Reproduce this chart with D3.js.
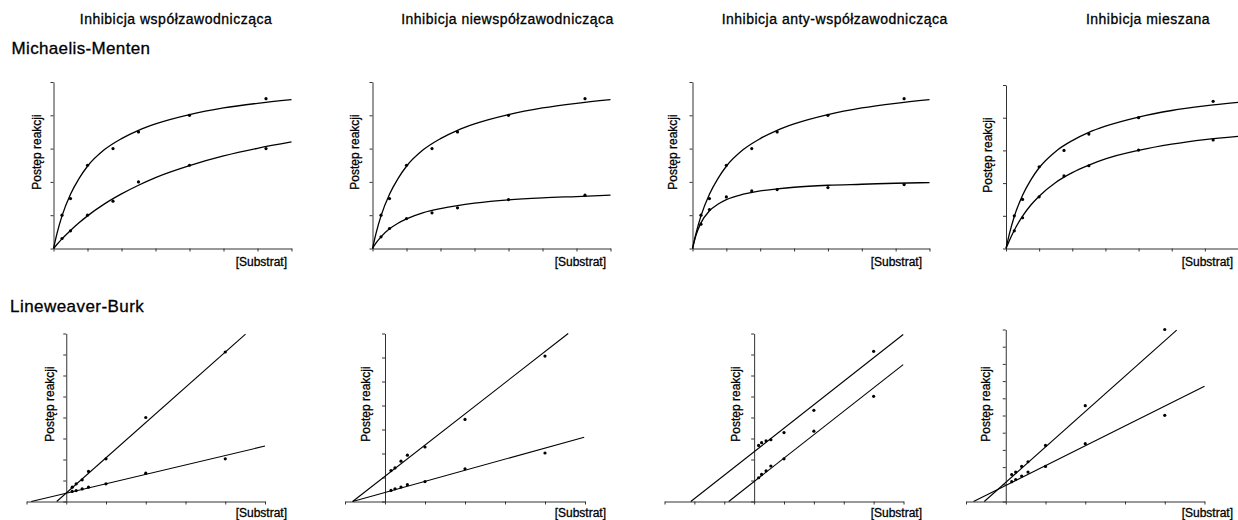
<!DOCTYPE html>
<html>
<head>
<meta charset="utf-8">
<script src="https://cdn.jsdelivr.net/npm/d3@7"></script>
<style>
  html, body { margin: 0; padding: 0; background: #fff; }
  svg { display: block; font-family: "Liberation Sans", Arial, Helvetica, sans-serif; }
  svg text { stroke: #000; stroke-width: 0.3px; }
</style>
</head>
<body>
<svg id="chart" width="1238" height="520"></svg>
<script>
// ---- Labels ----
const columnTitles = [
  "Inhibicja współzawodnicząca",
  "Inhibicja niewspółzawodnicząca",
  "Inhibicja anty-współzawodnicząca",
  "Inhibicja mieszana"
];
const rowTitles = ["Michaelis-Menten", "Lineweaver-Burk"];
const yAxisLabel = "Postęp reakcji";
const xAxisLabel = "[Substrat]";

// ---- Michaelis-Menten: measured rates ----
const substrate = [0.25, 0.5, 1, 1.75, 2.5, 4, 6.25];
const rateUninhibited = [1.0, 1.5, 2.5, 3.0, 3.5, 4.0, 4.5];
const rateCompetitive = [0.3, 0.53, 1.0, 1.42, 2.0, 2.5, 3.0];
const rateNoncompetitive = [0.35, 0.6, 0.9, 1.07, 1.22, 1.47, 1.6];
const rateUncompetitive = [0.73, 1.17, 1.55, 1.73, 1.77, 1.83, 1.92];
const rateMixed = [0.54, 0.94, 1.58, 2.22, 2.53, 3.01, 3.32];

// ---- Michaelis-Menten: fitted curves ----
const curveSubstrate = [0, 0.1, 0.25, 0.5, 0.75, 1, 1.5, 2, 2.5, 3, 4, 5, 6, 7];
const fitUninhibited = [0, 0.44, 0.98, 1.63, 2.1, 2.47, 2.97, 3.3, 3.55, 3.74, 4.02, 4.22, 4.36, 4.47];
const fitCompetitive = [0, 0.12, 0.29, 0.54, 0.77, 0.98, 1.34, 1.64, 1.9, 2.13, 2.49, 2.78, 3.01, 3.2];
const fitNoncompetitive = [0, 0.16, 0.35, 0.59, 0.76, 0.89, 1.08, 1.2, 1.29, 1.36, 1.46, 1.52, 1.56, 1.6];
const fitUncompetitive = [0, 0.39, 0.77, 1.13, 1.33, 1.47, 1.63, 1.73, 1.79, 1.84, 1.9, 1.93, 1.96, 1.98];
const fitMixed = [0, 0.24, 0.56, 0.99, 1.33, 1.6, 2.02, 2.32, 2.55, 2.74, 3.0, 3.19, 3.33, 3.43];

// ---- Lineweaver-Burk: reciprocal data ----
const invSubstrate = [0.15, 0.25, 0.4, 0.56, 1, 2, 4];
const lbCompetitiveInhibited = [0.68, 0.84, 1.03, 1.43, 2.03, 4.0, 7.12];
const lbCompetitiveControl = [0.48, 0.52, 0.6, 0.68, 0.84, 1.35, 2.03];
const lbNoncompetitiveInhibited = [1.29, 1.4, 1.68, 1.93, 2.27, 3.42, 6.06];
const lbNoncompetitiveControl = [0.46, 0.53, 0.6, 0.7, 0.83, 1.36, 2.02];
const lbUncompetitiveInhibited = [2.67, 2.8, 2.89, 2.94, 3.28, 4.34, 7.15];
const lbUncompetitiveControl = [1.13, 1.29, 1.46, 1.69, 2.03, 3.35, 5.01];
const lbMixedInhibited = [1.57, 1.71, 2.04, 2.31, 3.26, 5.57, 10.0];
const lbMixedControl = [1.15, 1.28, 1.48, 1.71, 2.04, 3.36, 5.01];

// ---- Lineweaver-Burk: fitted straight lines (end points, [1/S, 1/v]) ----
const lineCompetitiveInhibited = [[-0.24, 0], [4.51, 7.97]];
const lineCompetitiveControl = [[-0.88, 0], [5, 2.64]];
const lineNoncompetitiveInhibited = [[-0.81, 0], [4.58, 7.0]];
const lineNoncompetitiveControl = [[-0.81, 0], [4.98, 2.68]];
const lineUncompetitiveInhibited = [[-2.12, 0], [4.99, 7.95]];
const lineUncompetitiveControl = [[-0.85, 0], [4.99, 6.52]];
const lineMixedInhibited = [[-0.54, 0], [4.3, 9.96]];
const lineMixedControl = [[-0.81, 0], [5, 6.7]];

// ---- Axis extents ----
const mmXDomain = [0, 7];
const mmYDomain = [0, 5];
const lbXDomains = [[-1, 5], [-1, 5], [-3, 5], [-1, 5]];
const lbYDomains = [[0, 8], [0, 7], [0, 8], [0, 10]];

// ---- Layout (pixels) ----
const mmFrames = [
  { left: 53.5, right: 291.5, top: 82, bottom: 248.5, labelX: 40.8, labelRight: 287, titleX: 176 },
  { left: 372.5, right: 610.5, top: 82, bottom: 248.5, labelX: 358.8, labelRight: 606, titleX: 507.5 },
  { left: 692.5, right: 929.5, top: 82, bottom: 248.5, labelX: 676.8, labelRight: 922, titleX: 834.7 },
  { left: 1006, right: 1238, top: 85, bottom: 248.5, labelX: 992, labelRight: 1233, titleX: 1148 }
];
const lbFrames = [
  { left: 26.5, right: 265, top: 333.5, bottom: 501.5, labelX: 53.5, labelRight: 287 },
  { left: 345, right: 585, top: 333.5, bottom: 501.5, labelX: 370, labelRight: 606 },
  { left: 664.5, right: 903.5, top: 333.5, bottom: 501.5, labelX: 740, labelRight: 922 },
  { left: 966, right: 1204.5, top: 329.5, bottom: 501.5, labelX: 990, labelRight: 1233 }
];

const svg = d3.select("#chart");
const INK = "#000";
const AXIS = "#333";

// Column headings and row headings
svg.selectAll("text.col-title")
  .data(columnTitles)
  .join("text")
  .attr("class", "col-title")
  .attr("x", (d, i) => mmFrames[i].titleX)
  .attr("y", 23.5)
  .attr("text-anchor", "middle")
  .attr("font-size", 14)
  .attr("letter-spacing", 0.5)
  .attr("fill", INK)
  .text(d => d);

svg.append("text").attr("x", 11.5).attr("y", 54).attr("font-size", 17)
  .attr("letter-spacing", 0.35).attr("fill", INK).text(rowTitles[0]);
svg.append("text").attr("x", 10).attr("y", 311.5).attr("font-size", 17)
  .attr("letter-spacing", 0.45).attr("fill", INK).text(rowTitles[1]);

function integerTicks(domain) {
  return d3.range(domain[0], domain[1] + 1);
}

function drawAxes(g, x, y, xDomain, yDomain, frame, yLabelCenter, xLabelBaseline) {
  const xAxis = d3.axisBottom(x).tickValues(integerTicks(xDomain))
    .tickSize(3).tickSizeOuter(0).tickFormat("");
  const yAxis = d3.axisLeft(y).tickValues(integerTicks(yDomain))
    .tickSize(3).tickSizeOuter(0).tickFormat("");

  const gx = g.append("g").attr("transform", `translate(0,${y(0)})`).call(xAxis);
  const gy = g.append("g").attr("transform", `translate(${x(0)},0)`).call(yAxis);
  [gx, gy].forEach(a => {
    a.select(".domain").attr("stroke", AXIS).attr("stroke-width", 1);
    a.selectAll(".tick line").attr("stroke", AXIS).attr("stroke-width", 1);
  });

  g.append("text")
    .attr("transform", `translate(${frame.labelX},${yLabelCenter}) rotate(-90)`)
    .attr("text-anchor", "middle")
    .attr("font-size", 12)
    .attr("fill", INK)
    .text(yAxisLabel);

  g.append("text")
    .attr("x", frame.labelRight)
    .attr("y", xLabelBaseline)
    .attr("text-anchor", "end")
    .attr("font-size", 12)
    .attr("fill", INK)
    .text(xAxisLabel);
}

function drawDots(g, xs, ys, x, y) {
  g.append("g").selectAll("circle")
    .data(xs.map((v, i) => [v, ys[i]]))
    .join("circle")
    .attr("cx", d => x(d[0]))
    .attr("cy", d => y(d[1]))
    .attr("r", 1.6)
    .attr("fill", INK);
}

// ---- Michaelis-Menten row ----
const mmInhibitedRates = [rateCompetitive, rateNoncompetitive, rateUncompetitive, rateMixed];
const mmInhibitedFits = [fitCompetitive, fitNoncompetitive, fitUncompetitive, fitMixed];

mmFrames.forEach((f, i) => {
  const g = svg.append("g");
  const x = d3.scaleLinear().domain(mmXDomain).range([f.left, f.right]);
  const y = d3.scaleLinear().domain(mmYDomain).range([f.bottom, f.top]);
  drawAxes(g, x, y, mmXDomain, mmYDomain, f, f.top + 70, 265.5);

  const curve = d3.line()
    .x(d => x(d[0]))
    .y(d => y(d[1]))
    .curve(d3.curveMonotoneX);

  [fitUninhibited, mmInhibitedFits[i]].forEach(fit => {
    g.append("path")
      .datum(curveSubstrate.map((s, k) => [s, fit[k]]))
      .attr("d", curve)
      .attr("fill", "none")
      .attr("stroke", INK)
      .attr("stroke-width", 1.3);
  });

  drawDots(g, substrate, rateUninhibited, x, y);
  drawDots(g, substrate, mmInhibitedRates[i], x, y);
});

// ---- Lineweaver-Burk row ----
const lbInhibited = [lbCompetitiveInhibited, lbNoncompetitiveInhibited, lbUncompetitiveInhibited, lbMixedInhibited];
const lbControl = [lbCompetitiveControl, lbNoncompetitiveControl, lbUncompetitiveControl, lbMixedControl];
const lbLines = [
  [lineCompetitiveInhibited, lineCompetitiveControl],
  [lineNoncompetitiveInhibited, lineNoncompetitiveControl],
  [lineUncompetitiveInhibited, lineUncompetitiveControl],
  [lineMixedInhibited, lineMixedControl]
];

lbFrames.forEach((f, i) => {
  const g = svg.append("g");
  const x = d3.scaleLinear().domain(lbXDomains[i]).range([f.left, f.right]);
  const y = d3.scaleLinear().domain(lbYDomains[i]).range([f.bottom, f.top]);
  drawAxes(g, x, y, lbXDomains[i], lbYDomains[i], f, 404, 517);

  const straight = d3.line().x(d => x(d[0])).y(d => y(d[1]));
  lbLines[i].forEach(seg => {
    g.append("path")
      .datum(seg)
      .attr("d", straight)
      .attr("fill", "none")
      .attr("stroke", INK)
      .attr("stroke-width", 1.1);
  });

  drawDots(g, invSubstrate, lbInhibited[i], x, y);
  drawDots(g, invSubstrate, lbControl[i], x, y);
});
</script>
</body>
</html>
